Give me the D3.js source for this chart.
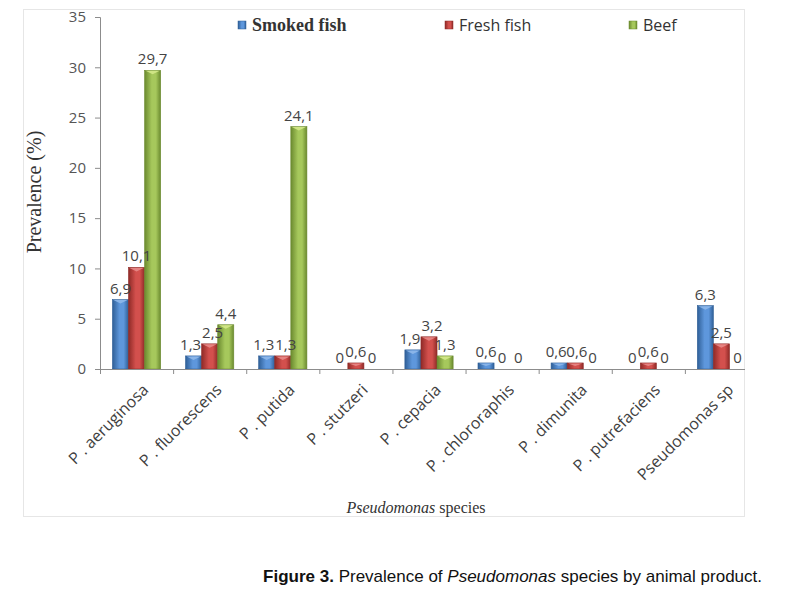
<!DOCTYPE html>
<html><head><meta charset="utf-8">
<script src="https://cdn.jsdelivr.net/npm/d3@7"></script>
<style>body{margin:0;background:#fff}svg{display:block}</style>
</head><body>
<svg id="c" width="793" height="597"></svg>
<script>
const categories = ["P . aeruginosa","P . fluorescens","P . putida","P . stutzeri","P . cepacia","P . chlororaphis","P . dimunita","P . putrefaciens","Pseudomonas sp"];
const seriesNames = ["Smoked fish","Fresh fish","Beef"];
const smokedFish = [6.9,1.3,1.3,0,1.9,0.6,0.6,0,6.3];
const freshFish  = [10.1,2.5,1.3,0.6,3.2,0,0.6,0.6,2.5];
const beef       = [29.7,4.4,24.1,0,1.3,0,0,0,0];
const yTicks = [0,5,10,15,20,25,30,35];

const seriesValues = [smokedFish, freshFish, beef];
const colors = [
  {edge:"#2f5f97", mid:"#5e97dc", top:"#8fb8ea"},
  {edge:"#8f2a27", mid:"#d3504d", top:"#e88a88"},
  {edge:"#6b8a2f", mid:"#a6c85c", top:"#d4e88a"}
];

const svg = d3.select("#c");
const defs = svg.append("defs");
colors.forEach((c,i)=>{
  const g = defs.append("linearGradient").attr("id","g"+i).attr("x1","0").attr("x2","1").attr("y1","0").attr("y2","0");
  g.append("stop").attr("offset","0%").attr("stop-color",c.edge);
  g.append("stop").attr("offset","45%").attr("stop-color",c.mid);
  g.append("stop").attr("offset","70%").attr("stop-color",c.mid);
  g.append("stop").attr("offset","100%").attr("stop-color",c.edge);
});
defs.append("clipPath").attr("id","clip").append("rect").attr("x",0).attr("y",0).attr("width",745).attr("height",597);

// frame
svg.append("rect").attr("x",23.5).attr("y",9.5).attr("width",721).attr("height",507)
  .attr("fill","none").attr("stroke","#e6e6e6");

const x0 = d3.scaleBand().domain(categories).range([100,758]).paddingInner(0.34).paddingOuter(0.17);
const x1 = d3.scaleBand().domain(seriesNames).range([0,x0.bandwidth()]);
const xb = d3.scaleLinear().domain([0,categories.length]).range([100,758]);
const y = d3.scaleLinear().domain([0,35]).range([369,17]);

const plot = svg.append("g").attr("clip-path","url(#clip)");
const labelLayer = svg.append("g");

// y axis
const ya = svg.append("g").attr("transform","translate(100,0)")
  .call(d3.axisLeft(y).tickValues(yTicks).tickSize(5).tickPadding(9));
ya.select(".domain").attr("stroke","#8c8c8c");
ya.selectAll(".tick line").attr("stroke","#8c8c8c");
ya.selectAll(".tick text").attr("font-family","'Open Sans', sans-serif").attr("font-size",15).attr("fill","#555");

// bars
categories.forEach((cat,ci)=>{
  const labs = [];
  seriesNames.forEach((s,si)=>{
    const v = seriesValues[si][ci];
    const bx = x0(cat)+x1(s), bw = x1.bandwidth();
    if(v>0){
      plot.append("rect").attr("x",bx).attr("y",y(v)).attr("width",bw).attr("height",y(0)-y(v))
        .attr("fill","url(#g"+si+")").attr("stroke",colors[si].edge).attr("stroke-width",0.6);
      plot.append("path").attr("d",`M${bx+1},${y(v)+0.5} L${bx+bw-1},${y(v)+0.5} L${bx+bw/2},${y(v)+Math.min(4,(y(0)-y(v))/2)} Z`)
        .attr("fill",colors[si].top).attr("opacity",0.9);
    }
    const t = labelLayer.append("text").attr("x",bx+bw/2).attr("y",y(v)-6).attr("text-anchor","middle")
      .attr("font-family","'Open Sans', sans-serif").attr("font-size",15).attr("fill","#444")
      .text(String(v).replace(".",","));
    labs.push({t, cx:bx+bw/2, w:t.node().getComputedTextLength(), y:y(v)-6});
  });
  // light overlap avoidance between neighbouring labels at similar heights
  for(let k=1;k<labs.length;k++){
    const a=labs[k-1], b=labs[k];
    if(Math.abs(a.y-b.y)<14){
      const ov = (a.cx+a.w/2+1) - (b.cx-b.w/2);
      if(ov>0){ a.cx-=ov/2; b.cx+=ov/2; }
    }
  }
  labs.forEach(l=>l.t.attr("x",l.cx));
});

// x axis
const xa = plot.append("g").attr("transform","translate(0,369)")
  .call(d3.axisBottom(xb).tickValues(d3.range(0,categories.length+1)).tickSize(5).tickFormat(""));
xa.select(".domain").attr("stroke","#8c8c8c");
xa.selectAll(".tick line").attr("stroke","#8c8c8c");

svg.append("g").selectAll("text").data(categories).join("text")
  .attr("transform",d=>`translate(${x0(d)+x0.bandwidth()/2+5},${383}) rotate(-45)`)
  .attr("text-anchor","end").attr("dy","0.7em")
  .attr("font-family","'Open Sans', sans-serif").attr("font-size",16).attr("fill","#404040")
  .text(d=>d);

// legend
const leg = [{x:238,font:"'Liberation Serif', serif",w:"bold",size:18},{x:445,font:"'Open Sans', sans-serif",w:"normal",size:16},{x:629,font:"'Open Sans', sans-serif",w:"normal",size:16}];
seriesNames.forEach((s,i)=>{
  svg.append("rect").attr("x",leg[i].x).attr("y",21).attr("width",8).attr("height",8)
    .attr("fill","url(#g"+i+")").attr("stroke",colors[i].edge).attr("stroke-width",0.5);
  svg.append("text").attr("x",leg[i].x+14).attr("y",31).attr("font-family",leg[i].font)
    .attr("font-weight",leg[i].w).attr("font-size",leg[i].size).attr("fill","#333").text(s);
});

// axis titles
svg.append("text").attr("transform","translate(41,192) rotate(-90)").attr("text-anchor","middle")
  .attr("font-family","'Liberation Serif', serif").attr("font-size",20).attr("fill","#333").text("Prevalence (%)");
const xt = svg.append("text").attr("x",416).attr("y",513).attr("text-anchor","middle")
  .attr("font-family","'Liberation Serif', serif").attr("font-size",16).attr("fill","#333");
xt.append("tspan").attr("font-style","italic").text("Pseudomonas");
xt.append("tspan").text(" species");

// caption
const cap = svg.append("text").attr("x",762).attr("y",582).attr("text-anchor","end")
  .attr("font-family","'Liberation Sans', Arial, sans-serif").attr("font-size",17).attr("fill","#111");
cap.append("tspan").attr("font-weight","bold").text("Figure 3.");
cap.append("tspan").text(" Prevalence of ");
cap.append("tspan").attr("font-style","italic").text("Pseudomonas");
cap.append("tspan").text(" species by animal product.");
</script>
</body></html>
